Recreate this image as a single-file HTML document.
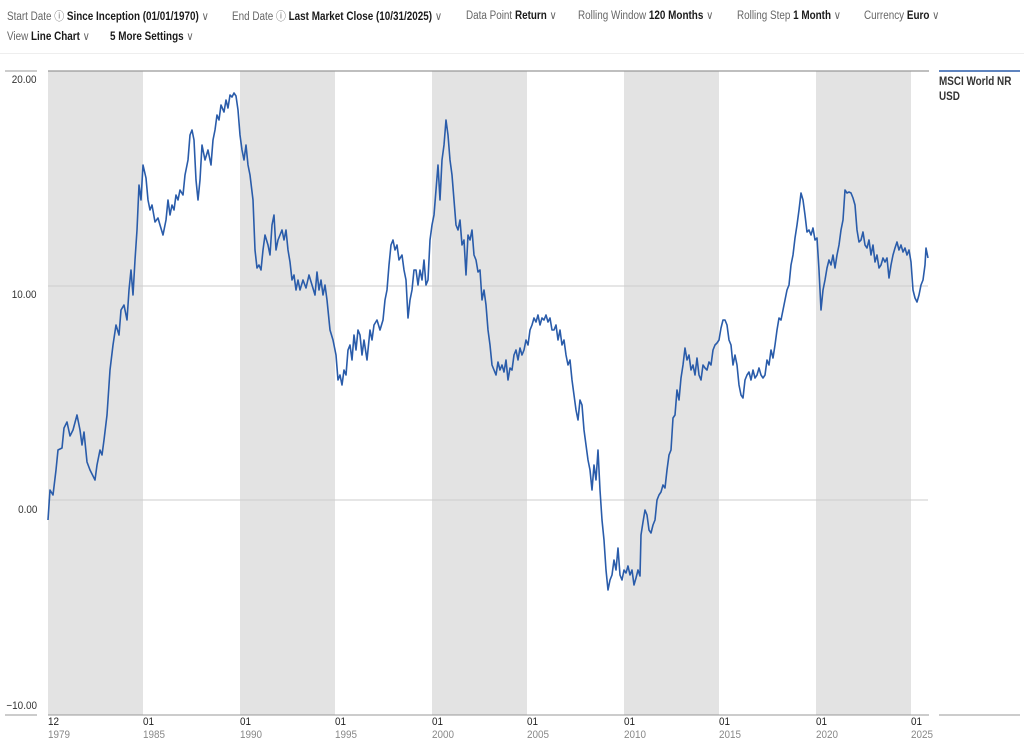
<!DOCTYPE html>
<html><head><meta charset="utf-8"><style>
body{margin:0;width:1024px;height:744px;background:#fff;font-family:"Liberation Sans",sans-serif;overflow:hidden;position:relative}
.h{position:absolute;font-size:11.5px;color:#666;white-space:nowrap;transform-origin:left center;transform:scaleX(0.86)}
.h b{color:#1a1a1a}
.yl{position:absolute;font-size:11px;color:#333;right:987px;transform:scaleX(0.9);transform-origin:right center}
.xl{position:absolute;font-size:11px;line-height:13px;color:#222;transform:scaleX(0.9);transform-origin:left top}
.xl span{color:#888}
</style></head><body>
<div class="h" style="left:7px;top:8px">Start Date ⓘ <b>Since Inception (01/01/1970)</b> ∨</div>
<div class="h" style="left:232px;top:8px">End Date ⓘ <b>Last Market Close (10/31/2025)</b> ∨</div>
<div class="h" style="left:466px;top:8px">Data Point <b>Return</b> ∨</div>
<div class="h" style="left:578px;top:8px">Rolling Window <b>120 Months</b> ∨</div>
<div class="h" style="left:737px;top:8px">Rolling Step <b>1 Month</b> ∨</div>
<div class="h" style="left:864px;top:8px">Currency <b>Euro</b> ∨</div>
<div class="h" style="left:7px;top:29px">View <b>Line Chart</b> ∨</div>
<div class="h" style="left:110px;top:29px"><b>5 More Settings</b> ∨</div>
<div style="position:absolute;left:0;top:53px;width:1024px;height:1px;background:#eee"></div>
<svg style="position:absolute;left:0;top:0" width="1024" height="744">
<g fill="#e3e3e3">
<rect x="48" y="71" width="95" height="644"/><rect x="240" y="71" width="95" height="644"/>
<rect x="432" y="71" width="95" height="644"/><rect x="624" y="71" width="95" height="644"/>
<rect x="816" y="71" width="95" height="644"/></g>
<line x1="48" y1="286" x2="928" y2="286" stroke="#ccc"/>
<line x1="48" y1="500" x2="928" y2="500" stroke="#ccc"/>
<line x1="48" y1="71" x2="929" y2="71" stroke="#999" stroke-width="1.2"/>
<line x1="48" y1="715" x2="929" y2="715" stroke="#999"/>
<line x1="5" y1="71" x2="37" y2="71" stroke="#999"/>
<line x1="5" y1="715" x2="37" y2="715" stroke="#999"/>
<line x1="939" y1="71" x2="1020" y2="71" stroke="#2a5caa" stroke-width="1.5"/>
<line x1="939" y1="715" x2="1020" y2="715" stroke="#999"/>
<polyline fill="none" stroke="#2a5caa" stroke-width="1.6" stroke-linejoin="round" points="48,520 50,490 53,495 56,470 58,450 62,448 64,428 67,422 70,436 73,430 77,415 80,430 82,445 84,432 87,462 90,470 95,480 97,465 100,450 102,455 104,440 107,415 110,370 113,345 116,325 119,335 121,310 124,305 127,320 129,290 131,270 133,295 135,260 137,230 139,185 141,200 143,165 146,178 148,200 150,210 152,205 155,222 158,218 160,225 163,235 166,220 168,200 170,215 172,205 174,210 176,195 178,200 180,190 183,195 185,175 188,160 190,135 192,130 194,140 196,180 198,200 200,180 202,145 205,160 208,150 211,165 213,140 215,130 217,115 219,120 221,105 224,112 226,100 228,108 230,95 232,97 234,93 236,96 238,110 240,135 242,150 244,160 246,145 248,165 250,175 253,200 255,250 257,268 259,265 261,270 263,250 265,235 268,245 270,255 272,225 274,215 276,250 278,240 280,235 282,230 284,240 286,230 288,250 290,262 292,280 294,275 296,290 298,280 300,290 303,280 306,288 309,275 312,285 315,295 317,272 319,290 321,280 323,295 325,285 327,300 330,330 333,340 336,355 338,380 340,375 342,385 344,370 346,375 348,350 350,345 352,360 354,335 356,350 358,330 360,335 362,355 364,340 367,360 370,330 372,340 374,325 377,320 380,330 383,320 385,300 387,290 389,265 391,245 393,240 395,250 397,245 399,260 402,255 404,270 406,280 408,318 410,300 412,290 414,270 416,270 418,285 420,270 422,280 424,260 426,285 428,280 430,240 432,225 434,215 436,190 438,165 440,200 442,160 444,145 446,120 448,135 450,160 452,175 454,200 456,225 458,230 460,220 462,245 464,240 466,275 468,235 470,240 472,230 474,255 476,260 478,272 480,270 482,300 484,290 486,305 488,330 490,345 492,365 494,370 496,375 498,362 500,370 502,365 504,372 506,360 508,380 510,368 512,370 514,355 516,350 518,360 520,348 522,355 524,350 526,340 528,345 530,330 532,325 534,318 536,322 538,315 540,325 542,318 544,320 546,315 548,322 550,318 552,330 554,330 556,325 558,340 560,330 562,345 564,340 566,355 568,365 570,360 572,380 574,395 576,410 578,420 580,400 582,405 584,430 586,445 588,460 590,470 592,490 594,465 596,480 598,450 600,490 602,520 604,540 606,570 608,590 610,580 612,575 614,560 616,570 618,548 620,575 622,580 624,570 626,573 628,566 630,575 632,570 634,585 636,578 638,570 640,576 641,535 643,522 645,510 647,515 649,530 651,533 653,525 655,520 657,500 659,495 661,492 663,485 665,488 667,470 669,455 671,450 673,418 675,415 677,390 679,400 681,378 683,365 685,348 687,360 689,355 691,370 693,365 695,375 697,358 699,375 701,380 703,365 705,368 707,370 709,362 711,365 713,350 715,345 717,343 719,340 721,328 723,320 725,320 727,325 729,340 731,345 733,365 735,355 737,365 739,385 741,395 743,398 745,380 747,375 749,372 751,380 753,370 755,378 757,375 759,368 761,375 763,378 765,375 767,360 769,365 771,350 773,358 775,345 777,330 779,318 781,320 783,310 785,300 787,290 789,285 791,265 793,255 795,238 797,225 799,210 801,193 803,200 805,215 807,232 809,230 811,235 813,228 815,240 817,238 819,270 821,310 823,290 825,280 827,268 829,260 831,265 833,255 835,268 837,255 839,245 841,230 843,220 845,190 847,193 849,192 851,193 853,198 855,205 857,230 859,242 861,240 863,232 865,245 867,248 869,240 871,255 873,245 875,262 877,255 879,268 881,265 883,258 885,262 887,258 889,278 891,265 893,255 895,248 897,242 899,250 901,245 903,252 905,248 907,255 909,250 911,262 913,290 915,298 917,302 919,295 921,285 923,280 925,265 926,248 928,258"/>
</svg>
<div class="yl" style="top:74px">20.00</div>
<div class="yl" style="top:289px">10.00</div>
<div class="yl" style="top:504px">0.00</div>
<div class="yl" style="top:700px">−10.00</div>
<div style="position:absolute;left:939px;top:75px;font-size:11.5px;font-weight:bold;color:#333;line-height:15px;transform:scaleX(0.86);transform-origin:left top">MSCI World NR<br>USD</div>
<div class="xl" style="left:48px;top:716px">12<br><span>1979</span></div>
<div class="xl" style="left:143px;top:716px">01<br><span>1985</span></div>
<div class="xl" style="left:240px;top:716px">01<br><span>1990</span></div>
<div class="xl" style="left:335px;top:716px">01<br><span>1995</span></div>
<div class="xl" style="left:432px;top:716px">01<br><span>2000</span></div>
<div class="xl" style="left:527px;top:716px">01<br><span>2005</span></div>
<div class="xl" style="left:624px;top:716px">01<br><span>2010</span></div>
<div class="xl" style="left:719px;top:716px">01<br><span>2015</span></div>
<div class="xl" style="left:816px;top:716px">01<br><span>2020</span></div>
<div class="xl" style="left:911px;top:716px">01<br><span>2025</span></div>
</body></html>
